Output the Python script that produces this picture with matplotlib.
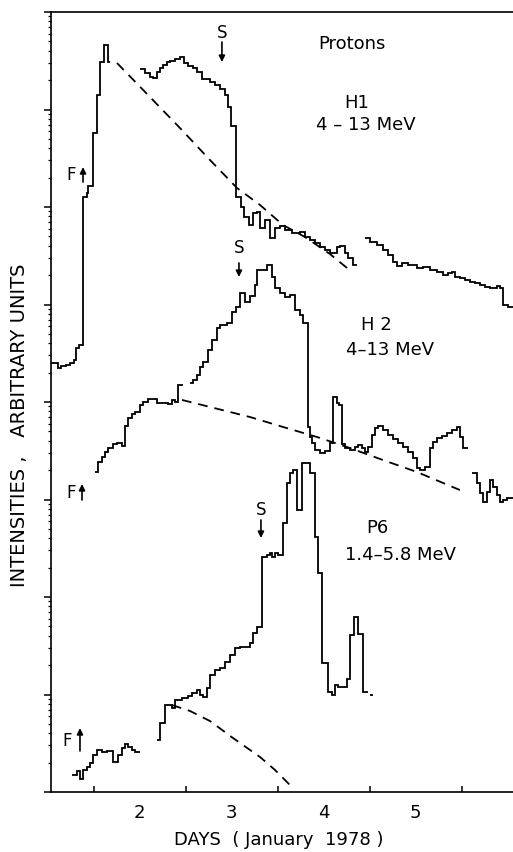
import numpy as np
import matplotlib
matplotlib.use('Agg')
import matplotlib.pyplot as plt
from matplotlib.ticker import LogLocator, NullFormatter, FixedLocator

# all intensities are stored as log10 (arbitrary units), time in days of January 1978
# H1 4-13 MeV : three pieces of the stepped record (bin edges, values)
h1_a_days = [1.035, 1.111, 1.143, 1.198, 1.241, 1.285, 1.306, 1.339, 1.383, 1.426,
             1.437, 1.491, 1.535, 1.567, 1.611, 1.654, 1.676]
h1_a_lg = [4.400, 4.349, 4.369, 4.380, 4.400, 4.431, 4.554, 4.585, 6.103, 6.144,
           6.215, 6.759, 7.149, 7.487, 7.662, 7.487]
h1_b_days = [2.002, 2.057, 2.111, 2.143, 2.187, 2.220, 2.252, 2.296, 2.328, 2.383,
             2.437, 2.480, 2.524, 2.578, 2.622, 2.676, 2.763, 2.817, 2.872, 2.926,
             2.959, 2.991, 3.046, 3.100, 3.133, 3.187, 3.230, 3.274, 3.307, 3.361,
             3.415, 3.470, 3.524, 3.578, 3.654, 3.741, 3.796, 3.850, 3.904, 3.959,
             4.013, 4.067, 4.143, 4.176, 4.230, 4.263, 4.317, 4.361]
h1_b_lg = [7.415, 7.374, 7.333, 7.323, 7.385, 7.426, 7.456, 7.487, 7.497, 7.518,
           7.538, 7.477, 7.446, 7.426, 7.385, 7.313, 7.282, 7.251, 7.210, 7.149,
           7.026, 6.831, 6.103, 6.000, 5.897, 5.815, 5.938, 5.949, 5.785, 5.867,
           5.682, 5.785, 5.805, 5.764, 5.733, 5.744, 5.692, 5.662, 5.631, 5.590,
           5.559, 5.528, 5.590, 5.600, 5.528, 5.477, 5.405]
h1_c_days = [4.448, 4.502, 4.578, 4.643, 4.698, 4.752, 4.796, 4.850, 4.915, 5.013,
             5.078, 5.154, 5.230, 5.296, 5.350, 5.393, 5.426, 5.480, 5.535, 5.589,
             5.643, 5.698, 5.752, 5.807, 5.883, 5.915, 5.948, 6.002, 6.057]
h1_c_lg = [5.682, 5.641, 5.610, 5.559, 5.508, 5.436, 5.395, 5.426, 5.405, 5.374,
           5.385, 5.354, 5.333, 5.303, 5.323, 5.333, 5.282, 5.272, 5.251, 5.231,
           5.221, 5.200, 5.179, 5.169, 5.190, 5.169, 4.995, 4.974]
h1_fit_days = [1.752, 2.111, 2.437, 2.763, 3.057, 3.307, 3.557, 3.796, 4.067, 4.307]
h1_fit_lg = [7.477, 7.128, 6.810, 6.482, 6.195, 6.021, 5.815, 5.692, 5.518, 5.333]

# H2 4-13 MeV
h2_a_days = [1.513, 1.546, 1.589, 1.622, 1.654, 1.709, 1.752, 1.807, 1.839, 1.872,
             1.915, 1.948, 2.002, 2.035, 2.089, 2.187, 2.307, 2.350, 2.383, 2.415, 2.470]
h2_a_lg = [3.282, 3.385, 3.436, 3.487, 3.528, 3.569, 3.580, 3.549, 3.754, 3.836,
           3.877, 3.897, 3.969, 4.000, 4.031, 3.990, 3.979, 4.021, 4.000, 4.174]
h2_b_days = [2.546, 2.578, 2.622, 2.654, 2.687, 2.741, 2.785, 2.839, 2.872, 2.948,
             3.002, 3.046, 3.089, 3.143, 3.198, 3.252, 3.274, 3.383, 3.437, 3.470,
             3.524, 3.578, 3.633, 3.687, 3.741, 3.774, 3.828, 3.850, 3.872, 3.904,
             3.959, 4.013, 4.067, 4.100, 4.143, 4.165, 4.198, 4.230, 4.285, 4.339,
             4.372, 4.415, 4.448, 4.480, 4.524, 4.557, 4.589, 4.643, 4.698, 4.752,
             4.807, 4.861, 4.915, 4.970, 5.013, 5.046, 5.100, 5.154, 5.187, 5.230,
             5.285, 5.339, 5.393, 5.448, 5.480, 5.513, 5.567]
h2_b_lg = [4.195, 4.226, 4.277, 4.359, 4.410, 4.533, 4.636, 4.759, 4.790, 4.810,
           4.923, 4.974, 5.118, 5.026, 5.087, 5.200, 5.354, 5.405, 5.282, 5.169,
           5.118, 5.077, 5.097, 4.944, 4.892, 4.810, 3.744, 3.641, 3.580, 3.508,
           3.477, 3.497, 3.580, 4.051, 3.990, 3.969, 3.569, 3.528, 3.508, 3.538,
           3.559, 3.528, 3.487, 3.538, 3.662, 3.733, 3.754, 3.713, 3.662, 3.621,
           3.580, 3.538, 3.487, 3.426, 3.323, 3.303, 3.333, 3.528, 3.590, 3.631,
           3.651, 3.682, 3.713, 3.744, 3.641, 3.528]
h2_c_days = [5.611, 5.665, 5.698, 5.730, 5.774, 5.807, 5.839, 5.883, 5.915, 5.948,
             5.991, 6.057]
h2_c_lg = [3.272, 3.169, 3.067, 2.974, 3.077, 3.200, 3.128, 3.046, 2.974, 2.995, 3.015]
h2_fit_days = [2.459, 3.198, 3.557, 3.926, 4.285, 4.643, 5.013, 5.480]
h2_fit_lg = [4.021, 3.846, 3.744, 3.641, 3.528, 3.405, 3.282, 3.097]

# P6 1.4-5.8 MeV
p6_a_days = [1.263, 1.317, 1.350, 1.383, 1.426, 1.459, 1.491, 1.535, 1.589, 1.643,
             1.709, 1.763, 1.807, 1.839, 1.872, 1.915, 1.948, 2.002]
p6_a_lg = [0.174, 0.215, 0.133, 0.226, 0.256, 0.297, 0.380, 0.431, 0.410, 0.421,
           0.308, 0.380, 0.451, 0.492, 0.462, 0.431, 0.410]
p6_b_days = [2.187, 2.220, 2.274, 2.350, 2.383, 2.459, 2.524, 2.567, 2.622, 2.654,
             2.687, 2.730, 2.763, 2.817, 2.872, 2.926, 2.980, 3.035, 3.089, 3.198,
             3.230, 3.274, 3.328, 3.383, 3.415, 3.437, 3.470, 3.502, 3.557, 3.600,
             3.633, 3.665, 3.709, 3.763, 3.796, 3.850, 3.904, 3.937, 3.980, 4.046,
             4.089, 4.122, 4.154, 4.252, 4.285, 4.328, 4.372, 4.426, 4.480]
p6_b_lg = [0.533, 0.708, 0.892, 0.862, 0.944, 0.964, 0.985, 1.015, 1.046, 0.995,
           0.974, 1.067, 1.200, 1.251, 1.272, 1.333, 1.405, 1.477, 1.487, 1.528,
           1.631, 1.692, 2.410, 2.431, 2.451, 2.410, 2.451, 2.431, 2.759, 3.169,
           3.272, 3.303, 2.892, 3.374, 3.374, 3.272, 2.615, 2.246, 1.323, 1.026,
           0.995, 1.097, 1.077, 1.159, 1.610, 1.795, 1.621, 1.026]
p6_c_days = [4.502, 4.535]
p6_c_lg = [0.995]
p6_fit_days = [2.350, 2.546, 2.763, 3.013, 3.307, 3.470, 3.654]
p6_fit_lg = [0.892, 0.831, 0.728, 0.554, 0.359, 0.226, 0.051]

day_labels = [2, 3, 4, 5]
day_bounds = [1.5, 2.5, 3.5, 4.5, 5.5]


def steps(ax, edges, lg):
    ax.stairs(10 ** np.array(lg), edges, baseline=None, color='k', lw=1.3)


def fit(ax, days, lg):
    ax.plot(days, 10 ** np.array(lg), color='k', lw=1.3, dashes=(7, 5))


def arrow(ax, x, lg0, lg1):
    ax.annotate('', xy=(x, 10 ** lg1), xytext=(x, 10 ** lg0),
                arrowprops=dict(arrowstyle='-|>', color='k', lw=1.2,
                                mutation_scale=9, shrinkA=0, shrinkB=0))


def main():
    plt.rcParams['font.family'] = ['DejaVu Sans']
    plt.rcParams['lines.scale_dashes'] = False

    fig = plt.figure(figsize=(5.13, 8.52), dpi=100)
    ax = fig.add_axes([51 / 513, 60 / 852, 462 / 513, 780 / 852])
    ax.set_yscale('log')
    ax.set_xlim(1.035, 6.057)
    ax.set_ylim(1, 1e8)

    for edges, lg in [(h1_a_days, h1_a_lg), (h1_b_days, h1_b_lg), (h1_c_days, h1_c_lg),
                      (h2_a_days, h2_a_lg), (h2_b_days, h2_b_lg), (h2_c_days, h2_c_lg),
                      (p6_a_days, p6_a_lg), (p6_b_days, p6_b_lg), (p6_c_days, p6_c_lg)]:
        steps(ax, edges, lg)
    fit(ax, h1_fit_days, h1_fit_lg)
    fit(ax, h2_fit_days, h2_fit_lg)
    fit(ax, p6_fit_days, p6_fit_lg)

    # labels of the three channels
    fs = 13
    ax.text(4.306, 10 ** 7.672, 'Protons', ha='center', va='center', fontsize=fs)
    ax.text(4.361, 10 ** 7.067, 'H1', ha='center', va='center', fontsize=fs)
    ax.text(4.459, 10 ** 6.841, '4 – 13 MeV', ha='center', va='center', fontsize=fs)
    ax.text(4.567, 10 ** 4.790, 'H 2', ha='center', va='center', fontsize=fs)
    ax.text(4.719, 10 ** 4.533, '4–13 MeV', ha='center', va='center', fontsize=fs)
    ax.text(4.578, 10 ** 2.708, 'P6', ha='center', va='center', fontsize=fs)
    ax.text(4.839, 10 ** 2.431, '1.4–5.8 MeV', ha='center', va='center', fontsize=fs)

    # shock (S) and flare (F) markers
    for x, lg_t, lg0, lg1 in [(2.893, 7.785, 7.692, 7.487),
                              (3.078, 5.579, 5.426, 5.282),
                              (3.317, 2.892, 2.790, 2.605)]:
        ax.text(x, 10 ** lg_t, 'S', ha='center', va='center', fontsize=12)
        arrow(ax, x, lg0, lg1)
    for x_t, x, lg_t, lg0, lg1 in [(1.252, 1.383, 6.328, 6.256, 6.410),
                                   (1.252, 1.372, 3.067, 2.995, 3.159),
                                   (1.209, 1.350, 0.523, 0.421, 0.656)]:
        ax.text(x_t, 10 ** lg_t, 'F', ha='center', va='center', fontsize=12)
        arrow(ax, x, lg0, lg1)

    # axes
    ax.spines['right'].set_visible(False)
    for s in ['left', 'top', 'bottom']:
        ax.spines[s].set_linewidth(1.2)
    ax.yaxis.set_major_locator(LogLocator(base=10, numticks=20))
    ax.yaxis.set_minor_locator(LogLocator(base=10, subs=np.arange(2, 10), numticks=20))
    ax.yaxis.set_major_formatter(NullFormatter())
    ax.yaxis.set_minor_formatter(NullFormatter())
    ax.tick_params(axis='y', which='major', direction='out', length=5, width=1.1)
    ax.tick_params(axis='y', which='minor', direction='out', length=2.5, width=0.9)

    ax.set_xticks(day_labels)
    ax.set_xticklabels([str(d) for d in day_labels], fontsize=13)
    ax.xaxis.set_minor_locator(FixedLocator(day_bounds))
    ax.tick_params(axis='x', which='major', length=0, pad=9)
    ax.tick_params(axis='x', which='minor', direction='in', length=4, width=1.1)

    fig.text(279 / 513, 12 / 852, 'DAYS  ( January  1978 )', ha='center', va='center',
             fontsize=13)
    fig.text(20 / 513, 1 - 425 / 852, 'INTENSITIES ,   ARBITRARY UNITS', rotation=90,
             ha='center', va='center', fontsize=14)

    fig.savefig('out.png', dpi=100)
    print("Plot saved to out.png")


if __name__ == '__main__':
    main()
